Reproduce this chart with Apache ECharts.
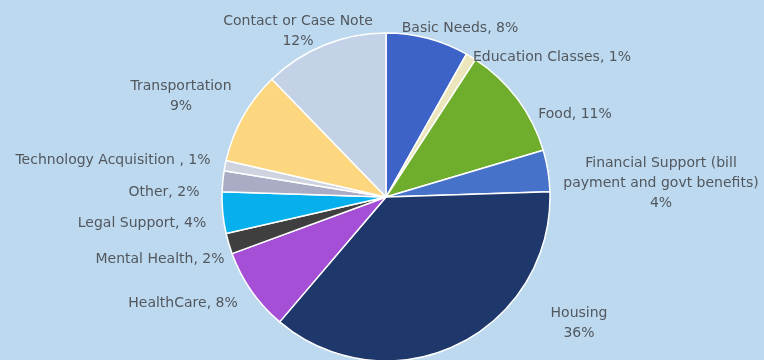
<!DOCTYPE html>
<html>
<head>
<meta charset="utf-8">
<script src="https://cdn.jsdelivr.net/npm/echarts@6/dist/echarts.min.js"></script>
<style>
  html, body { margin: 0; padding: 0; background: #bdd9ef; }
  #chart { width: 764px; height: 360px; }
</style>
</head>
<body>
<div id="chart"></div>
<script>
const categories = [
  'Basic Needs',
  'Education Classes',
  'Food',
  'Financial Support (bill\npayment and govt benefits)',
  'Housing',
  'HealthCare',
  'Mental Health',
  'Legal Support',
  'Other',
  'Technology Acquisition ',
  'Transportation',
  'Contact or Case Note',
]
const percents = [8, 1, 11, 4, 36, 8, 2, 4, 2, 1, 9, 12]
// label joins: a comma on one line, or the percent on its own line
const separators = [', ', ', ', ', ', '\n', '\n', ', ', ', ', ', ', ', ', ', ', '\n', '\n']
const colors = [
  '#3d63c9', '#ebe6bb', '#6fae2c', '#4673c9', '#1f386b', '#a44fd6',
  '#3f3f3f', '#05b0ec', '#a9acc4', '#cfd3e0', '#fdd77f', '#c3d2e6',
]
// where each label sits (centre of its text block), like the original's placement
const labelSpots = [
  [460, 28], [552, 57], [575, 114], [661, 183], [579, 323], [183, 303],
  [160, 259], [142, 223], [164, 192], [113, 160], [181, 96], [298, 31],
]

const chart = echarts.init(document.getElementById('chart'))

chart.setOption({
  backgroundColor: '#bdd9ef',
  textStyle: { fontFamily: 'DejaVu Sans' },
  series: [
    {
      type: 'pie',
      center: [386, 197],
      radius: 164,
      startAngle: 90,
      clockwise: true,
      avoidLabelOverlap: false,
      silent: true,
      itemStyle: {
        borderColor: '#ffffff',
        borderWidth: 1.5,
      },
      label: {
        show: true,
        position: 'outside',
        color: '#52575e',
        fontSize: 14,
        lineHeight: 20,
        align: 'center',
        formatter: ({ dataIndex }) =>
          categories[dataIndex] + separators[dataIndex] + percents[dataIndex] + '%',
      },
      labelLine: { show: false },
      labelLayout: ({ dataIndex }) => ({
        x: labelSpots[dataIndex][0],
        y: labelSpots[dataIndex][1],
        align: 'center',
        verticalAlign: 'middle',
        hideOverlap: false,
      }),
      data: categories.map((name, i) => ({
        name,
        value: percents[i],
        itemStyle: { color: colors[i] },
      })),
    },
  ],
})
</script>
</body>
</html>
